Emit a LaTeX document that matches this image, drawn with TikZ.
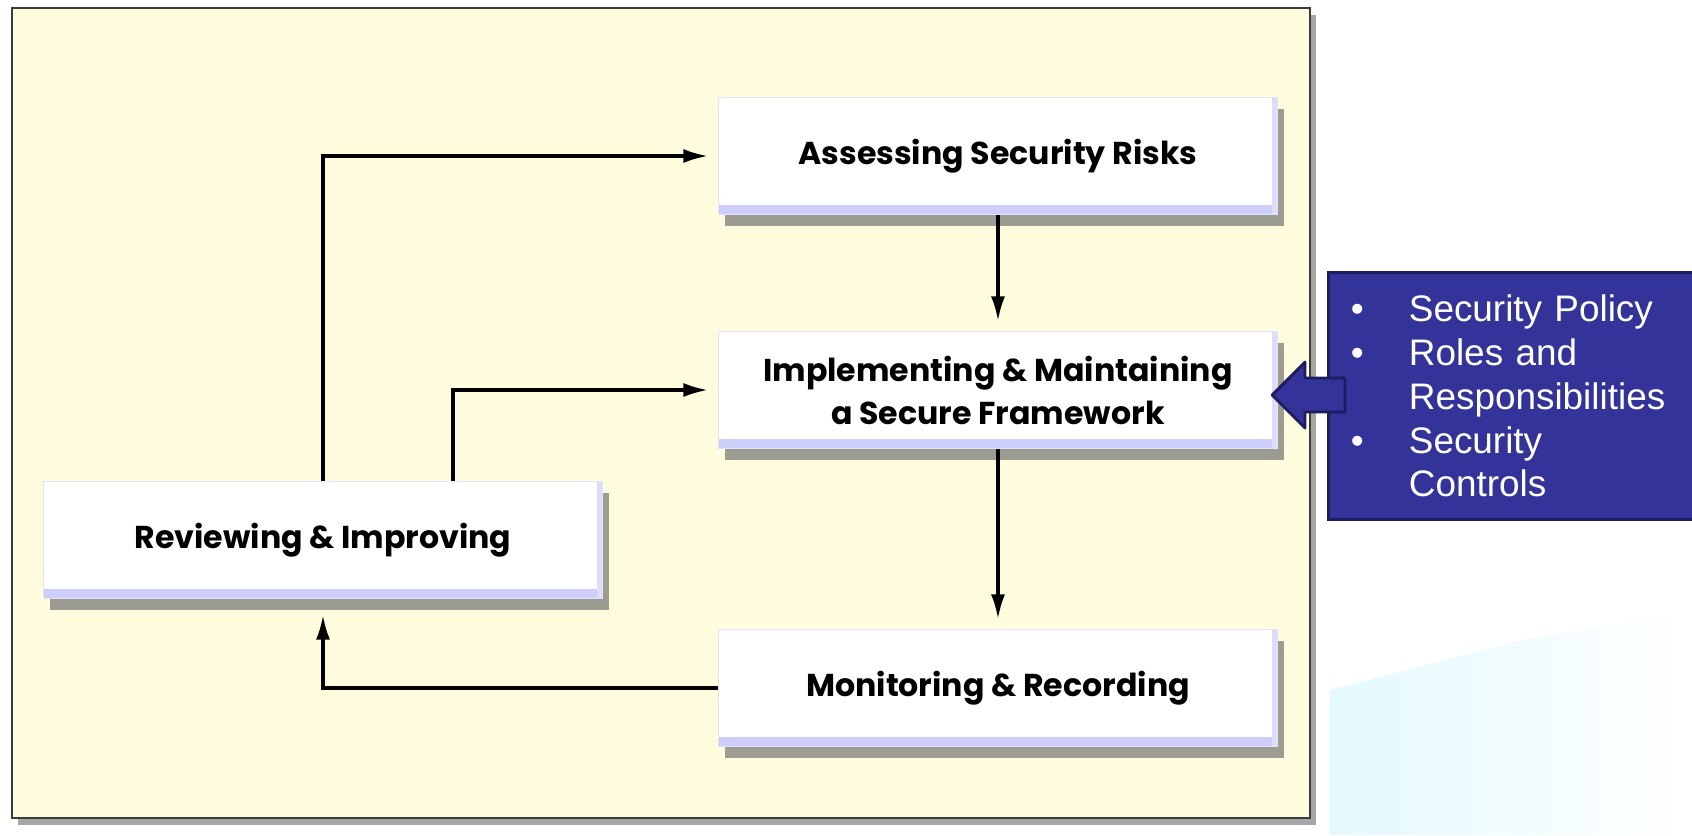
\documentclass[tikz,border=0pt]{standalone}
\usepackage{fontspec}
\setmainfont{Liberation Sans}
\setsansfont{Poppins}
\usetikzlibrary{positioning, arrows.meta, shadows}
\definecolor{FrameFill}{RGB}{255,253,222}
\definecolor{FrameEdge}{RGB}{60,60,60}
\definecolor{BoxBevel}{RGB}{206,206,250}
\definecolor{InfoBlue}{RGB}{51,51,153}
\definecolor{InfoEdge}{RGB}{28,28,96}
\definecolor{SwooshCyan}{RGB}{228,249,253}

\begin{document}
\begin{tikzpicture}[x=0.1mm, y=-0.1mm,
          stage/.style={rectangle, fill=white, draw=BoxBevel!60, line width=0.4pt,
                        minimum width=55.9mm, minimum height=11.7mm, align=center,
                        font=\sffamily\bfseries\fontsize{9}{12.2}\selectfont,
                        drop shadow={shadow xshift=0.6mm, shadow yshift=-1.1mm,
                                     fill=black!55, opacity=0.7},
                        path picture={
                          \fill[BoxBevel] (path picture bounding box.south west)
                            rectangle ([yshift=2.6pt]path picture bounding box.south east);
                          \fill[BoxBevel!70] ([xshift=-1.6pt]path picture bounding box.north east)
                            rectangle (path picture bounding box.south east);}},
          arr/.style={-{Latex[length=7pt,width=4pt]}, line width=0.9pt, shorten >=2.8pt},
          infobox/.style={rectangle, fill=InfoBlue, draw=InfoEdge, line width=0.8pt,
                          text=white, align=left, text width=32mm, inner xsep=2.25mm,
                          minimum height=24.7mm, font=\fontsize{10.5}{12.5}\selectfont},
          blockarr/.style={fill=InfoBlue, draw=InfoEdge, line width=0.8pt, line join=round}
        ]
        \useasboundingbox (0,0) rectangle (1692,835);

        % Slide background
        \shade[left color=SwooshCyan, right color=white]
              (1330,690) -- (1530,638) -- (1692,612)
              -- (1692,835) -- (1330,835) -- cycle;

        % Frame
        \fill[black!35] (18,15) rectangle (1316,825);
        \draw[FrameEdge, line width=0.6pt, fill=FrameFill] (12,8) rectangle (1310,818);

        % Stages
        \node[stage] (assess) at (998,156) {Assessing Security Risks};
        \node[stage] (impl) at (998,390) {Implementing \& Maintaining\\a Secure Framework};
        \node[stage] (monit) at (998,688) {Monitoring \& Recording};
        \node[stage] (review) at (323,540) {Reviewing \& Improving};

        % Cycle
        \draw[arr] (assess) -- (impl);
        \draw[arr] (impl) -- (monit);
        \draw[arr, shorten >=4.5pt] (monit.west) -| (review.south);
        \draw[arr] (review.north) |- (assess.west);
        \draw[arr] ([xshift=13mm]review.north) |- (impl.west);

        % Framework contents
        \node[infobox, anchor=north west] (info) at (1327,271)
              {\makebox[5.8mm][l]{\textbullet}Security Policy\\
               \makebox[5.8mm][l]{\textbullet}Roles and\\
               \hspace*{5.8mm}Responsibilities\\
               \makebox[5.8mm][l]{\textbullet}Security\\
               \hspace*{5.8mm}Controls};
        \draw[blockarr] (1272,395) -- (1305,362) -- (1305,378) -- (1345,378)
              -- (1345,412) -- (1305,412) -- (1305,428) -- cycle;
      \end{tikzpicture}
\end{document}
